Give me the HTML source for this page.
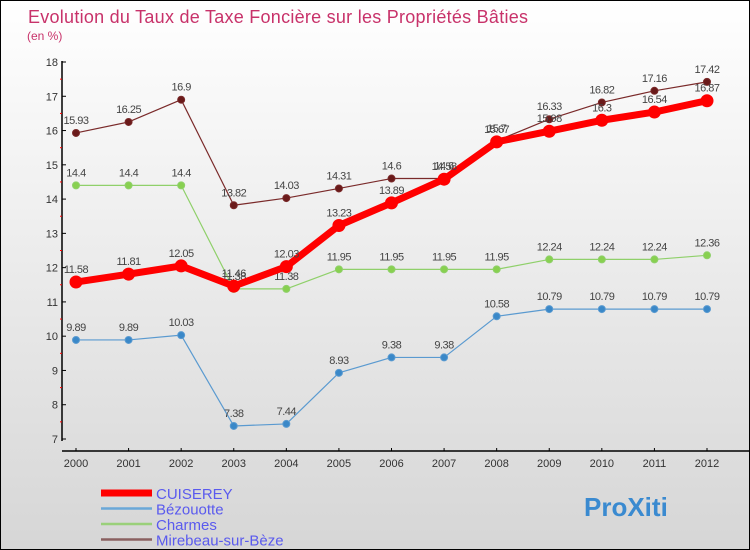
<!DOCTYPE html>
<html><head><meta charset="utf-8"><style>
body{margin:0}
#c{width:748px;height:548px;border:1px solid #000;background:linear-gradient(#fff,#d6d6d6);position:relative;font-family:"Liberation Sans",sans-serif;overflow:hidden}
</style></head><body>
<div id="c">
<svg id="s" width="748" height="548" xmlns="http://www.w3.org/2000/svg"></svg>
</div>
<script>
const years=[2000,2001,2002,2003,2004,2005,2006,2007,2008,2009,2010,2011,2012];
const cuiserey=[11.58,11.81,12.05,11.46,12.03,13.23,13.89,14.58,15.67,15.98,16.3,16.54,16.87];
const bezouotte=[9.89,9.89,10.03,7.38,7.44,8.93,9.38,9.38,10.58,10.79,10.79,10.79,10.79];
const charmes=[14.4,14.4,14.4,11.38,11.38,11.95,11.95,11.95,11.95,12.24,12.24,12.24,12.36];
const mirebeau=[15.93,16.25,16.9,13.82,14.03,14.31,14.6,14.6,15.7,16.33,16.82,17.16,17.42];
const yTicks=[7,8,9,10,11,12,13,14,15,16,17,18];
const NS="http://www.w3.org/2000/svg";
const s=document.getElementById('s');
const X=i=>75+i*(631/12);
const Y=v=>438-(v-7)*(377/11);
function el(t,a,p){const e=document.createElementNS(NS,t);for(const k in a)e.setAttribute(k,a[k]);(p||s).appendChild(e);return e;}
let t=el('text',{x:27,y:22,fill:'#c8326a','font-size':18,'textLength':500});t.textContent='Evolution du Taux de Taxe Foncière sur les Propriétés Bâties';

t=el('text',{x:26,y:39,fill:'#c8326a','font-size':12});t.textContent='(en %)';

let a=el('line',{x1:61,y1:60,x2:61,y2:440,stroke:'#000','stroke-width':1.5});

a=el('line',{x1:61,y1:450,x2:748,y2:450,stroke:'#000','stroke-width':1.5});

yTicks.forEach(v=>{el('line',{x1:61,y1:Y(v),x2:65,y2:Y(v),stroke:'#000'});
 if(v<18)el('line',{x1:59,y1:Y(v+0.5),x2:61,y2:Y(v+0.5),stroke:'#f00'});
 const l=el('text',{x:57,y:Y(v)+4,'text-anchor':'end','font-size':11,fill:'#333'});l.textContent=v;
 });
years.forEach((yr,i)=>{el('line',{x1:X(i),y1:447,x2:X(i),y2:450,stroke:'#000'});
 const l=el('text',{x:X(i),y:466,'text-anchor':'middle','font-size':11,fill:'#333'});l.textContent=yr;
 });
function series(d,color,w,r,name,fill){
 const g=el('g',{});
 el('polyline',{points:d.map((v,i)=>X(i)+','+Y(v)).join(' '),fill:'none',stroke:color,'stroke-width':w,'stroke-linejoin':'round'},g);
 d.forEach((v,i)=>{const c=el('circle',{cx:X(i),cy:Y(v),r:r,fill:fill,stroke:color,'stroke-width':1},g);
  
  const l=el('text',{x:X(i),y:Y(v)-9,'text-anchor':'middle','font-size':11,fill:'#444','letter-spacing':'-0.5'},g);l.textContent=v;});
}
series(mirebeau,'#7a2a2a',1.2,3.5,'mirebeau','#6a1a1a');
series(charmes,'#8fd06a',1.2,3.5,'charmes','#88d050');
series(bezouotte,'#5a9ad0',1.2,3.5,'bezouotte','#3a88c8');
series(cuiserey,'#ff0000',7,6,'cuiserey','#ff0000');
const leg=[['CUISEREY','#ff0000',7],['Bézouotte','#6aa8d8',2.5],['Charmes','#9ad07a',2.5],['Mirebeau-sur-Bèze','#8a6060',2.5]];
leg.forEach((L,i)=>{const g=el('g',{});
 const y=492+i*15.5;el('line',{x1:100,y1:y,x2:151,y2:y,stroke:L[1],'stroke-width':L[2]},g);
 const tx=el('text',{x:155,y:y+6,'font-size':15,fill:'#5a5aee'},g);tx.textContent=L[0];});
t=el('text',{x:583,y:515,'font-size':26,'font-weight':'bold',fill:'#3a8ad0'});t.textContent='ProXiti';

</script>
</body></html>
